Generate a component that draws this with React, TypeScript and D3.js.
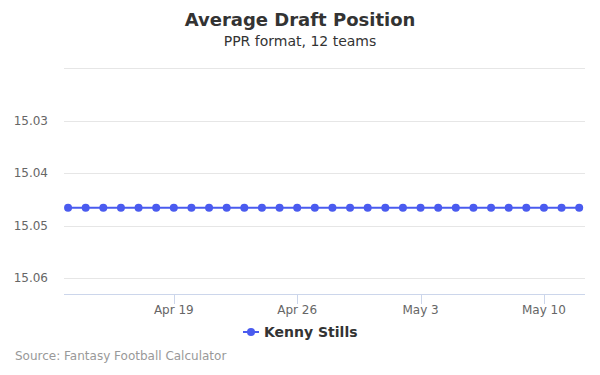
import React, { useEffect, useRef } from 'react';
import * as d3 from 'd3';

const dates: string[] = [
  '2018-04-13', '2018-04-14', '2018-04-15', '2018-04-16', '2018-04-17', '2018-04-18',
  '2018-04-19', '2018-04-20', '2018-04-21', '2018-04-22', '2018-04-23', '2018-04-24',
  '2018-04-25', '2018-04-26', '2018-04-27', '2018-04-28', '2018-04-29', '2018-04-30',
  '2018-05-01', '2018-05-02', '2018-05-03', '2018-05-04', '2018-05-05', '2018-05-06',
  '2018-05-07', '2018-05-08', '2018-05-09', '2018-05-10', '2018-05-11', '2018-05-12',
];

const adp: number[] = [
  15.0466, 15.0466, 15.0466, 15.0466, 15.0466, 15.0466,
  15.0466, 15.0466, 15.0466, 15.0466, 15.0466, 15.0466,
  15.0466, 15.0466, 15.0466, 15.0466, 15.0466, 15.0466,
  15.0466, 15.0466, 15.0466, 15.0466, 15.0466, 15.0466,
  15.0466, 15.0466, 15.0466, 15.0466, 15.0466, 15.0466,
];

const gridValues: number[] = [15.02, 15.03, 15.04, 15.05, 15.06];
const yLabels: number[] = [15.03, 15.04, 15.05, 15.06];
const xTicks: string[] = ['2018-04-19', '2018-04-26', '2018-05-03', '2018-05-10'];

const seriesName = 'Kenny Stills';
const color = '#4a5bef';
const font = '"DejaVu Sans", "Lucida Grande", Arial, sans-serif';

const App: React.FC = () => {
  const svgRef = useRef<SVGSVGElement | null>(null);

  useEffect(() => {
    const svg = d3.select(svgRef.current);
    svg.selectAll('*').remove();

    const W = 600;
    const H = 375;
    const plot = { left: 64, right: 585, top: 68, bottom: 294 };
    const parse = d3.timeParse('%Y-%m-%d');
    const data = dates.map((d, i) => ({ date: parse(d) as Date, value: adp[i] }));

    // x: a little padding either side, like the original
    const first = data[0].date;
    const last = data[data.length - 1].date;
    const day = 86400000;
    const x = d3
      .scaleTime()
      .domain([new Date(first.getTime() - 0.23 * day), new Date(last.getTime() + 0.33 * day)])
      .range([plot.left, plot.right]);

    // reversed y axis
    const y = d3.scaleLinear().domain([15.02, 15.063]).range([plot.top, plot.bottom]);

    svg.attr('width', W).attr('height', H).style('font-family', font);

    svg.append('rect').attr('width', W).attr('height', H).attr('fill', '#fff');

    // Title
    svg
      .append('text')
      .attr('x', W / 2)
      .attr('y', 26)
      .attr('text-anchor', 'middle')
      .attr('fill', '#333')
      .style('font-size', '18px')
      .style('font-weight', 'bold')
      .text('Average Draft Position');

    svg
      .append('text')
      .attr('x', W / 2)
      .attr('y', 46)
      .attr('text-anchor', 'middle')
      .attr('fill', '#333')
      .style('font-size', '14px')
      .text('PPR format, 12 teams');

    // Gridlines
    svg
      .append('g')
      .selectAll('line')
      .data(gridValues)
      .join('line')
      .attr('x1', plot.left)
      .attr('x2', plot.right)
      .attr('y1', d => Math.round(y(d)) + 0.5)
      .attr('y2', d => Math.round(y(d)) + 0.5)
      .attr('stroke', '#e6e6e6')
      .attr('stroke-width', 1);

    // Y labels
    svg
      .append('g')
      .selectAll('text')
      .data(yLabels)
      .join('text')
      .attr('x', 48)
      .attr('y', d => y(d) + 4)
      .attr('text-anchor', 'end')
      .attr('fill', '#666')
      .style('font-size', '12px')
      .text(d => d3.format('.2f')(d));

    // X axis line + ticks
    svg
      .append('line')
      .attr('x1', plot.left)
      .attr('x2', plot.right)
      .attr('y1', plot.bottom + 0.5)
      .attr('y2', plot.bottom + 0.5)
      .attr('stroke', '#ccd6eb');

    const xt = xTicks.map(d => parse(d) as Date);
    const fmt = d3.timeFormat('%b %-d');
    const tickG = svg.append('g').selectAll('g').data(xt).join('g');
    tickG
      .append('line')
      .attr('x1', d => Math.round(x(d)) + 0.5)
      .attr('x2', d => Math.round(x(d)) + 0.5)
      .attr('y1', plot.bottom)
      .attr('y2', plot.bottom + 10)
      .attr('stroke', '#ccd6eb');
    tickG
      .append('text')
      .attr('x', d => x(d))
      .attr('y', plot.bottom + 20)
      .attr('text-anchor', 'middle')
      .attr('fill', '#666')
      .style('font-size', '12px')
      .text(d => fmt(d));

    // Series line
    const line = d3
      .line<{ date: Date; value: number }>()
      .x(d => x(d.date))
      .y(d => y(d.value));

    svg
      .append('path')
      .datum(data)
      .attr('fill', 'none')
      .attr('stroke', color)
      .attr('stroke-width', 2)
      .attr('d', line);

    svg
      .append('g')
      .selectAll('circle')
      .data(data)
      .join('circle')
      .attr('cx', d => x(d.date))
      .attr('cy', d => y(d.value))
      .attr('r', 4)
      .attr('fill', color);

    // Legend
    const lg = svg.append('g').attr('transform', 'translate(243,332)');
    lg.append('line').attr('x1', 0).attr('x2', 16).attr('y1', 0).attr('y2', 0)
      .attr('stroke', color).attr('stroke-width', 2);
    lg.append('circle').attr('cx', 8).attr('cy', 0).attr('r', 4).attr('fill', color);
    lg.append('text')
      .attr('x', 21)
      .attr('y', 5)
      .attr('fill', '#333')
      .style('font-size', '14px')
      .style('font-weight', 'bold')
      .text(seriesName);

    // Credits
    svg
      .append('text')
      .attr('x', 15)
      .attr('y', 360)
      .attr('fill', '#999')
      .style('font-size', '12px')
      .text('Source: Fantasy Football Calculator');
  }, []);

  return (
    <div style={{ margin: -8 }}>
      <svg ref={svgRef} style={{ display: 'block' }} />
    </div>
  );
};

export default App;
